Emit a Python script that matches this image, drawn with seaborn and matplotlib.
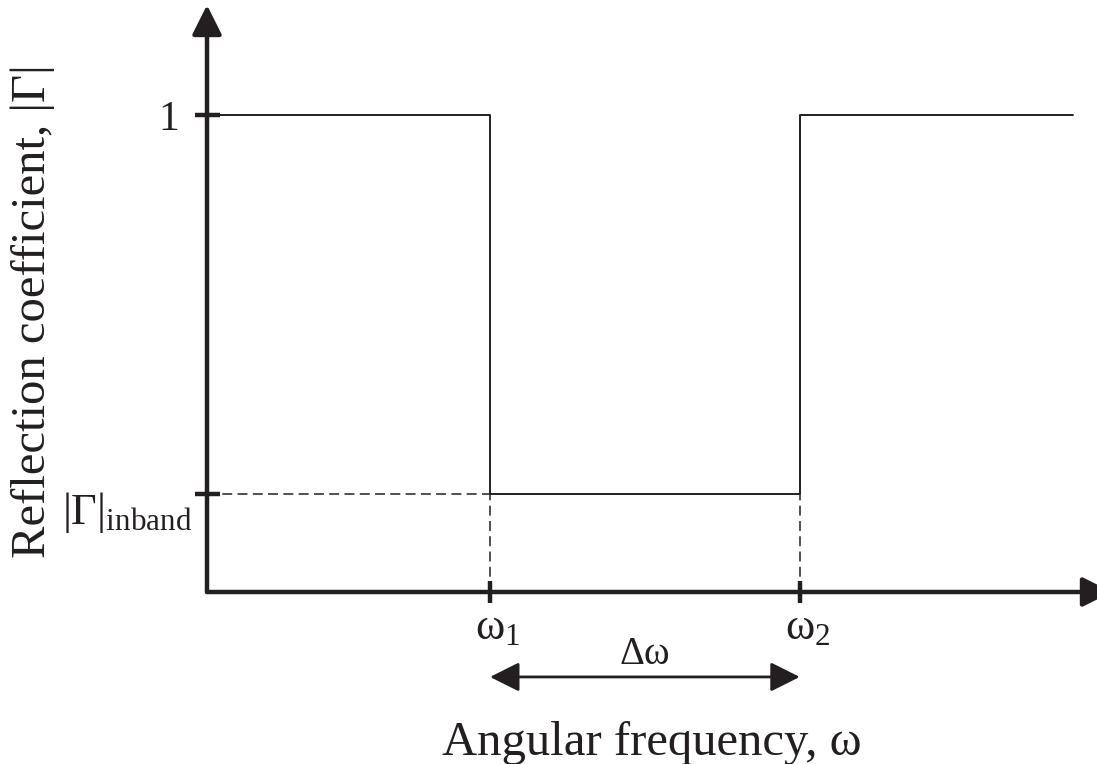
import matplotlib
matplotlib.use("Agg")
import matplotlib.pyplot as plt
import matplotlib.transforms as mtransforms
import seaborn as sns
import pandas as pd

# ---- data (normalised axis units) ----
freq = [0.0, 0.3127, 0.655, 0.957]          # start, omega1, omega2, end
gamma = [1.0, 0.205, 1.0, 1.0]              # |Gamma| (steps-post)
omega1, omega2 = 0.3127, 0.655
gamma_inband = 0.205
ytick_vals = [gamma_inband, 1.0]
ytick_labels = ["|Γ|$_{\\mathrm{inband}}$", "1"]
xtick_vals = [omega1, omega2]
xtick_labels = ["ω$_{1}$", "ω$_{2}$"]
xlabel = "Angular frequency, ω"
ylabel = "Reflection coefficient, |Γ|"
delta_label = "Δω"

sns.set_theme(style="white")
plt.rcParams["font.family"] = ["Liberation Serif", "DejaVu Serif"]
plt.rcParams["mathtext.fontset"] = "custom"
plt.rcParams["mathtext.rm"] = "Liberation Serif"
plt.rcParams["mathtext.it"] = "Liberation Serif:italic"
plt.rcParams["mathtext.default"] = "regular"

INK = "#231f20"
W, H = 1097, 764
fig = plt.figure(figsize=(W / 100, H / 100), dpi=100)
# axes extends a little past the right edge so the x-arrow head is cut like the reference
ax = fig.add_axes([207 / W, (H - 592) / H, (1112 - 207) / W, (592 - 5) / H])
ax.set_xlim(0, 1)
ax.set_ylim(0, 1.23)
for s in ax.spines.values():
    s.set_visible(False)

df = pd.DataFrame({"freq": freq, "gamma": gamma})
sns.lineplot(data=df, x="freq", y="gamma", ax=ax, color=INK, lw=1.4,
             drawstyle="steps-post", sort=False, estimator=None)

# dashed guides
dash = dict(color=INK, lw=1.1, dashes=(6.5, 3.5))
ax.plot([0, omega1], [gamma_inband, gamma_inband], **dash)
ax.plot([omega1, omega1], [0, gamma_inband], **dash)
ax.plot([omega2, omega2], [0, gamma_inband], **dash)

# axes with arrows
arrow_kw = dict(arrowstyle="-|>,head_length=0.6,head_width=0.3", lw=3.2,
                color=INK, mutation_scale=30, shrinkA=0, shrinkB=0)
ax.annotate("", xy=(0, 1.23), xytext=(0, 0), arrowprops=arrow_kw, annotation_clip=False)
ax.annotate("", xy=(1.0, 0), xytext=(0, 0), arrowprops=arrow_kw, annotation_clip=False)

# ticks
ax.set_yticks(ytick_vals)
ax.set_yticklabels(ytick_labels)
ax.set_xticks(xtick_vals)
ax.set_xticklabels(xtick_labels)
ax.tick_params(axis="y", direction="inout", length=18, width=3.2, color=INK,
               labelcolor=INK, labelsize=32, pad=2, left=True)
ax.tick_params(axis="x", direction="inout", length=16.5, width=3.2, color=INK,
               labelcolor=INK, labelsize=32, pad=3, bottom=True)
ylabs = ax.get_yticklabels()
ylabs[0].set_transform(ylabs[0].get_transform() +
                       mtransforms.ScaledTranslation(1 / 100, -13 / 100, fig.dpi_scale_trans))
ylabs[1].set_transform(ylabs[1].get_transform() +
                       mtransforms.ScaledTranslation(-13 / 100, 0, fig.dpi_scale_trans))
ylabs[1].set_fontsize(30)
for lab in ax.get_xticklabels():
    lab.set_transform(lab.get_transform() +
                      mtransforms.ScaledTranslation(8 / 100, 0, fig.dpi_scale_trans))

# bandwidth arrow
ax.annotate("", xy=(omega1, -0.178), xytext=(omega2, -0.178),
            arrowprops=dict(arrowstyle="<|-|>,head_length=0.6,head_width=0.3", lw=2.0,
                            color=INK, mutation_scale=30, shrinkA=0, shrinkB=0),
            annotation_clip=False)
ax.text((omega1 + omega2) / 2, -0.130, delta_label, ha="center", va="center",
        fontsize=28, color=INK, clip_on=False)

ax.set_xlabel(xlabel, fontsize=35, color=INK, va="baseline")
ax.xaxis.set_label_coords(0.491, -0.2777)
ax.set_ylabel(ylabel, fontsize=35, color=INK, va="center")
ax.yaxis.set_label_coords(-0.1923, 0.4787)

fig.savefig("out.png", dpi=100, facecolor="white")
